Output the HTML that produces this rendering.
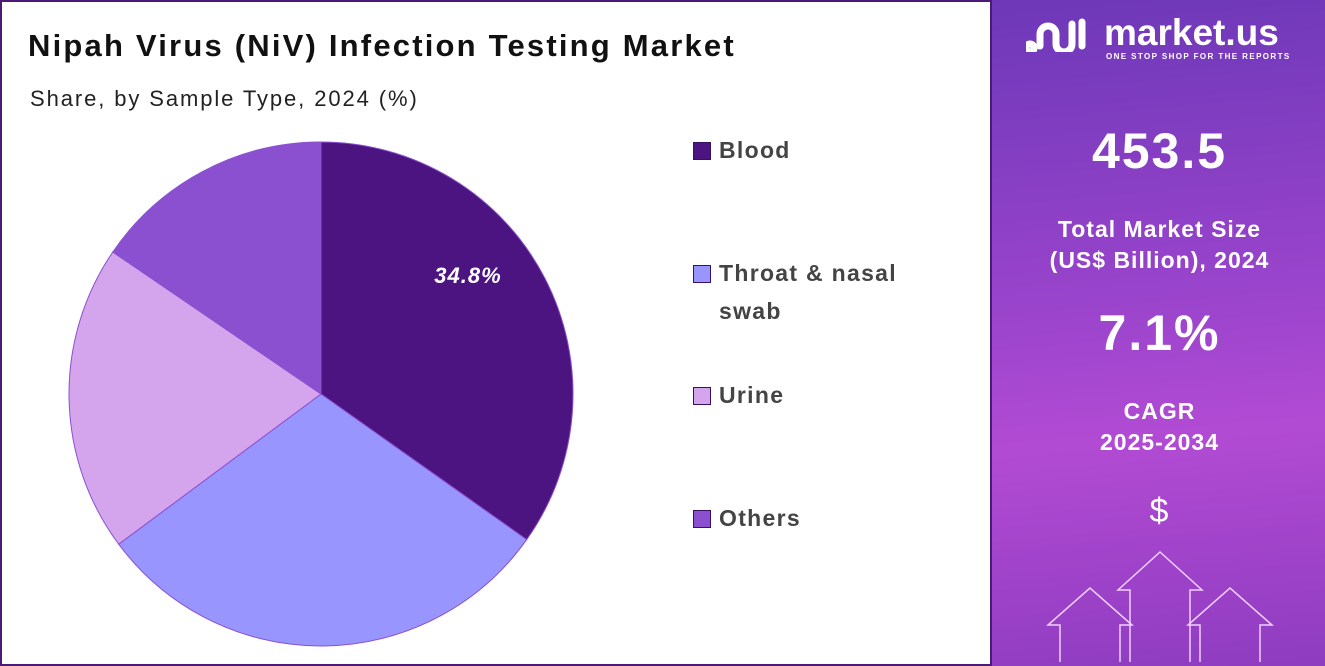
<!DOCTYPE html>
<html><head><meta charset="utf-8"><style>
body{margin:0;width:1325px;height:666px;overflow:hidden;font-family:"Liberation Sans",sans-serif;background:#fff}
.frame{position:absolute;left:0;top:0;width:1321px;height:662px;border:2px solid #4a1a7a}
.t{position:absolute;white-space:nowrap}
.panel{position:absolute;left:990px;top:0;width:335px;height:666px;background:linear-gradient(175deg,#6d38b8 0%,#9a44cc 45%,#b24bd4 65%,#8e3cc0 100%);border-left:2px solid #4a1a7a}
.w{color:#fff;font-weight:bold;text-align:center;position:absolute;left:0;width:335px;letter-spacing:1px}
.lg{position:absolute;left:693px;width:16px;height:16px;border:1px solid #3a1060}
.lt{position:absolute;left:719px;font-size:23px;font-weight:bold;color:#444;letter-spacing:1.3px}
</style></head><body>
<div class="frame"></div>
<div class="t" style="left:28px;top:28px;font-size:31px;font-weight:bold;color:#111;letter-spacing:2.2px">Nipah Virus (NiV) Infection Testing Market</div>
<div class="t" style="left:30px;top:86px;font-size:22px;color:#222;letter-spacing:1.9px">Share, by Sample Type, 2024 (%)</div>
<svg style="position:absolute;left:0;top:0" width="990" height="666">
<g stroke="#8a50d0" stroke-width="1">
<path d="M321,394 L321,142 A252,252 0 0 1 526.7,539.6 Z" fill="#4c1480"/>
<path d="M321,394 L526.7,539.6 A252,252 0 0 1 118.7,544.2 Z" fill="#9896fe"/>
<path d="M321,394 L118.7,544.2 A252,252 0 0 1 112.8,252 Z" fill="#d4a5ec"/>
<path d="M321,394 L112.8,252 A252,252 0 0 1 321,142 Z" fill="#8a50d0"/>
</g>
<text x="468" y="283" fill="#fff" font-size="22" font-weight="bold" font-style="italic" text-anchor="middle" font-family="Liberation Sans" letter-spacing="1">34.8%</text>
</svg>
<div class="lg" style="top:142px;background:#4c1480"></div><div class="lt" style="top:137px">Blood</div>
<div class="lg" style="top:265px;background:#9896fe"></div><div class="lt" style="top:254px;line-height:38px">Throat &amp; nasal<br>swab</div>
<div class="lg" style="top:387px;background:#d4a5ec"></div><div class="lt" style="top:382px">Urine</div>
<div class="lg" style="top:510px;background:#8a50d0"></div><div class="lt" style="top:505px">Others</div>
<div class="panel">
<svg style="position:absolute;left:34px;top:16px" width="62" height="36"><path d="M4,28 a4,4 0 1 0 0.1,0 M14,30 V18 a8,8 0 0 1 16,0 V28 a8,8 0 0 0 16,0 V8 M56,6 V30" stroke="#fff" stroke-width="7" fill="none" stroke-linecap="round"/></svg>
<div class="t" style="left:112px;top:12px;font-size:37px;font-weight:bold;color:#fff">market.us</div>
<div class="t" style="left:114px;top:52px;font-size:8px;font-weight:bold;color:#fff;letter-spacing:1.4px">ONE STOP SHOP FOR THE REPORTS</div>
<div class="w" style="top:122px;font-size:50px;letter-spacing:2px">453.5</div>
<div class="w" style="top:214px;font-size:23px;line-height:31px">Total Market Size<br>(US$ Billion), 2024</div>
<div class="w" style="top:304px;font-size:50px;letter-spacing:2px">7.1%</div>
<div class="w" style="top:396px;font-size:23px;line-height:31px">CAGR<br>2025-2034</div>
<div class="w" style="top:492px;font-size:34px;font-weight:normal">$</div>
<svg style="position:absolute;left:0;top:540px" width="335" height="126" fill="none" stroke="#f0d0ff" stroke-width="1.5">
<path d="M68,122 V85 H56 L98,48 L140,85 H128 V122"/>
<path d="M138,122 V50 H126 L168,12 L210,50 H198 V122"/>
<path d="M208,122 V85 H196 L238,48 L280,85 H268 V122"/>
</svg>
</div>
</body></html>
